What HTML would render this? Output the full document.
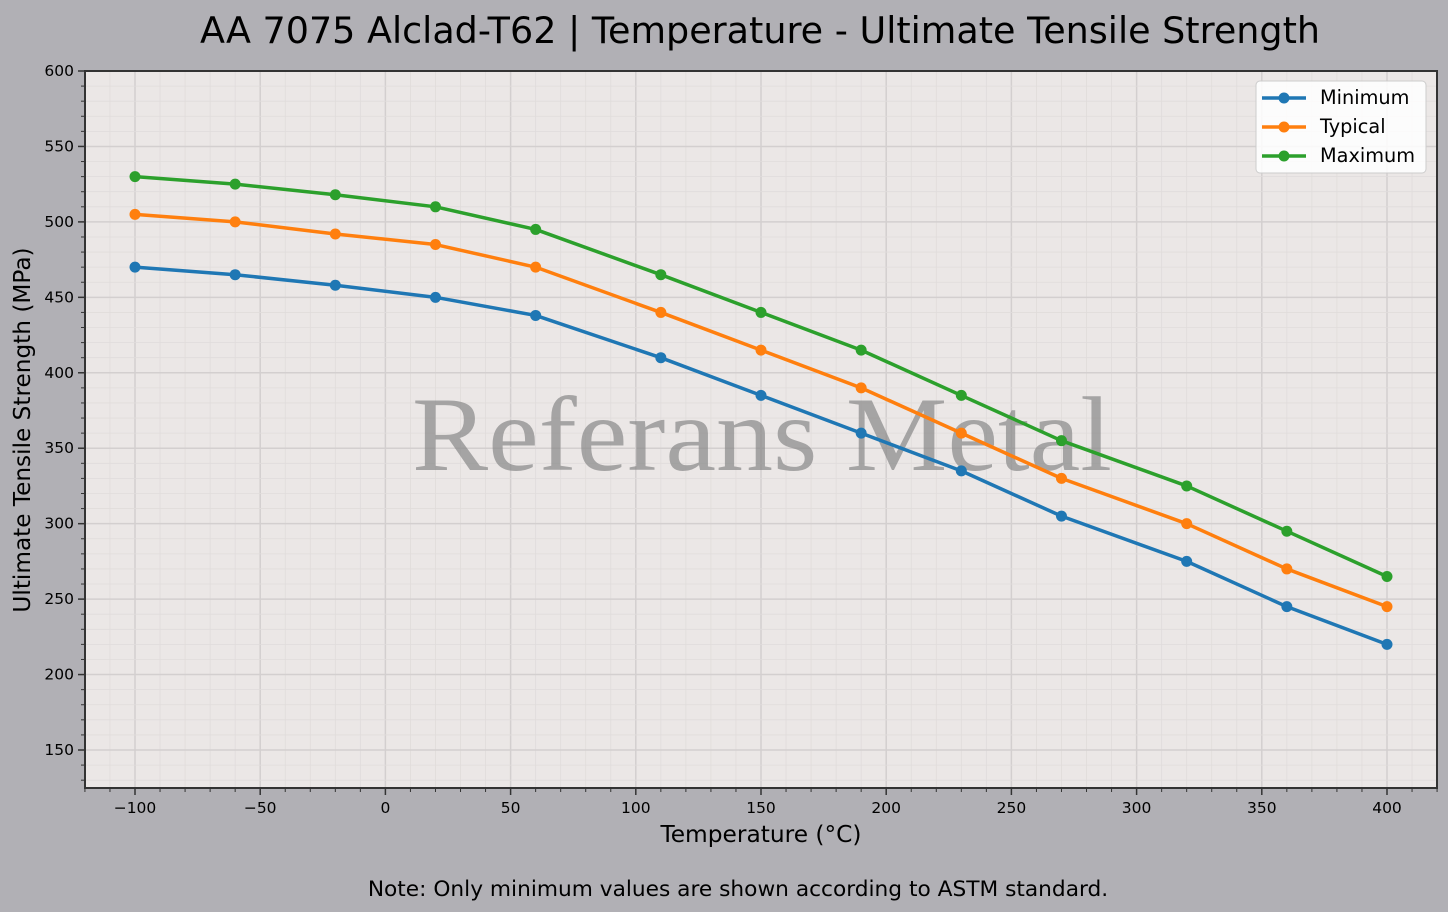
<!DOCTYPE html>
<html><head><meta charset="utf-8"><style>
html,body{margin:0;padding:0;background:#b1b0b5;}
svg{display:block;font-family:"DejaVu Sans","Liberation Sans",sans-serif;}
</style></head><body>
<svg id="s" width="1448" height="912" xmlns="http://www.w3.org/2000/svg">
<rect width="1448" height="912" fill="#b1b0b5"/>
<rect x="85" y="71" width="1352" height="717" fill="#ebe7e6"/>
<g id="grid"></g>
<text x="412" y="470" textLength="700" lengthAdjust="spacingAndGlyphs" font-family="Liberation Serif,serif" font-size="106" fill="#888" fill-opacity="0.7">Referans Metal</text>
<g id="series"></g>
<g id="axes"></g>
<text x="760" y="43" text-anchor="middle" font-size="36.5" fill="#000">AA 7075 Alclad-T62 | Temperature - Ultimate Tensile Strength</text>
<text x="761" y="842" text-anchor="middle" font-size="23.3" fill="#000">Temperature (°C)</text>
<text transform="translate(30,430) rotate(-90)" text-anchor="middle" font-size="23.2" fill="#000">Ultimate Tensile Strength (MPa)</text>
<text x="738" y="896" text-anchor="middle" font-size="21.7" fill="#000">Note: Only minimum values are shown according to ASTM standard.</text>
<g>
<rect x="1256" y="81" width="170" height="92" rx="4" fill="#fff" fill-opacity="0.85" stroke="#ccc"/>
<line x1="1262" y1="98" x2="1306" y2="98" stroke="#1f77b4" stroke-width="3.5"/><circle cx="1284" cy="98" r="5.5" fill="#1f77b4"/>
<text x="1320" y="104" font-size="19.3">Minimum</text>
<line x1="1262" y1="127" x2="1306" y2="127" stroke="#ff7f0e" stroke-width="3.5"/><circle cx="1284" cy="127" r="5.5" fill="#ff7f0e"/>
<text x="1320" y="133" font-size="19.3">Typical</text>
<line x1="1262" y1="156" x2="1306" y2="156" stroke="#2ca02c" stroke-width="3.5"/><circle cx="1284" cy="156" r="5.5" fill="#2ca02c"/>
<text x="1320" y="162" font-size="19.3">Maximum</text>
</g>
</svg>
<script>
const NS="http://www.w3.org/2000/svg";
const X=v=>135+(v+100)*2.504, Y=v=>71+(600-v)*1.5089;
function el(p,t,a,txt){const e=document.createElementNS(NS,t);for(const k in a)e.setAttribute(k,a[k]);if(txt!=null)e.textContent=txt;document.getElementById(p).appendChild(e);}
for(let v=-120;v<=420;v+=10){const maj=v%50==0;el("grid","line",{x1:X(v),x2:X(v),y1:71,y2:788,stroke:maj?"#d3cfcf":"#e0dcdb","stroke-width":maj?1.5:0.8});}
for(let v=130;v<=600;v+=10){const maj=v%50==0;el("grid","line",{x1:85,x2:1437,y1:Y(v),y2:Y(v),stroke:maj?"#d3cfcf":"#e0dcdb","stroke-width":maj?1.5:0.8});}
const xs=[-100,-60,-20,20,60,110,150,190,230,270,320,360,400];
const D=[["#1f77b4",[470,465,458,450,438,410,385,360,335,305,275,245,220]],
["#ff7f0e",[505,500,492,485,470,440,415,390,360,330,300,270,245]],
["#2ca02c",[530,525,518,510,495,465,440,415,385,355,325,295,265]]];
for(const [c,ys] of D){el("series","polyline",{points:xs.map((x,i)=>X(x)+","+Y(ys[i])).join(" "),fill:"none",stroke:c,"stroke-width":3.5,"stroke-linejoin":"round"});
xs.forEach((x,i)=>el("series","circle",{cx:X(x),cy:Y(ys[i]),r:5.5,fill:c}));}
el("axes","rect",{x:85,y:71,width:1352,height:717,fill:"none",stroke:"#333","stroke-width":2});
for(let v=-120;v<=420;v+=10){const maj=v%50==0;el("axes","line",{x1:X(v),x2:X(v),y1:788,y2:maj?795:792,stroke:"#333","stroke-width":maj?1.5:1});
if(maj&&v>=-100&&v<=400)el("axes","text",{x:X(v),y:813,"text-anchor":"middle","font-size":15.5},v<0?"\u2212"+(-v):v);}
for(let v=130;v<=600;v+=10){const maj=v%50==0;el("axes","line",{x1:85,x2:maj?78:81,y1:Y(v),y2:Y(v),stroke:"#333","stroke-width":maj?1.5:1});
if(maj&&v>=150)el("axes","text",{x:74,y:Y(v)+5,"text-anchor":"end","font-size":15.5},v);}
</script>
</body></html>
